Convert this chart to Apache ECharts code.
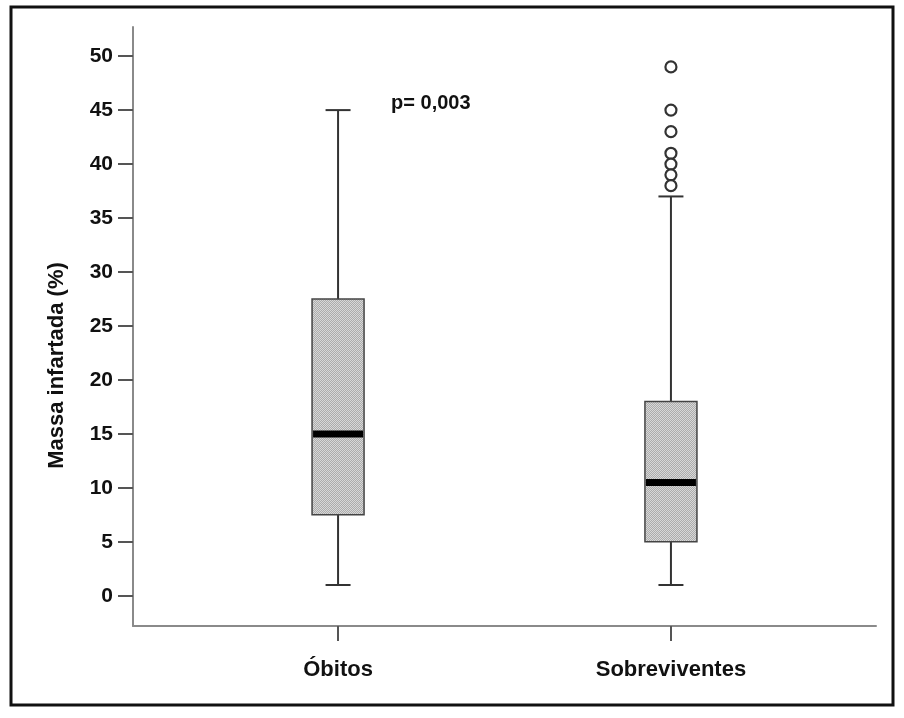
<!DOCTYPE html>
<html>
<head>
<meta charset="utf-8">
<script src="https://cdn.jsdelivr.net/npm/echarts@6/dist/echarts.min.js"></script>
<style>
html,body{margin:0;padding:0;background:#fff;}
#chart{width:904px;height:718px;}
</style>
</head>
<body>
<div id="chart"></div>
<script>
// ---- data ----
const categories = ['Óbitos', 'Sobreviventes'];
const whiskerLow = [1, 1];
const q1 = [7.5, 5];
const median = [15, 10.5];
const q3 = [27.5, 18];
const whiskerHigh = [45, 37];
const outlierGroup = [1, 1, 1, 1, 1, 1, 1];
const outlierValues = [49, 45, 43, 41, 40, 39, 38];
const yTicks = [0, 5, 10, 15, 20, 25, 30, 35, 40, 45, 50];
const pText = 'p= 0,003';
const pAnchor = [0, 45.6];

// ---- texture for boxes ----
const tile = document.createElement('canvas');
tile.width = 2; tile.height = 2;
const tctx = tile.getContext('2d');
tctx.fillStyle = '#d8d8d8'; tctx.fillRect(0, 0, 2, 2);
tctx.fillStyle = '#acacac'; tctx.fillRect(1, 0, 1, 1); tctx.fillRect(0, 1, 1, 1);

const FONT = "'Liberation Sans', Arial, Helvetica, sans-serif";
const boxData = categories.map((c, i) => [i, whiskerLow[i], q1[i], median[i], q3[i], whiskerHigh[i]]);
const outData = outlierValues.map((v, i) => [outlierGroup[i], v]);

const chart = echarts.init(document.getElementById('chart'), null, {renderer: 'canvas'});

function renderBox(params, api) {
  const x = api.value(0);
  const lo = api.coord([x, api.value(1)]);
  const b1 = api.coord([x, api.value(2)]);
  const md = api.coord([x, api.value(3)]);
  const b3 = api.coord([x, api.value(4)]);
  const hi = api.coord([x, api.value(5)]);
  const cx = lo[0];
  const bw = 52, cw = 25, mh = 7;
  const lineStyle = {stroke: '#333', lineWidth: 2};
  return {
    type: 'group',
    children: [
      {type: 'line', shape: {x1: cx, y1: hi[1], x2: cx, y2: b3[1]}, style: lineStyle},
      {type: 'line', shape: {x1: cx, y1: b1[1], x2: cx, y2: lo[1]}, style: lineStyle},
      {type: 'line', shape: {x1: cx - cw / 2, y1: hi[1], x2: cx + cw / 2, y2: hi[1]}, style: lineStyle},
      {type: 'line', shape: {x1: cx - cw / 2, y1: lo[1], x2: cx + cw / 2, y2: lo[1]}, style: lineStyle},
      {type: 'rect', shape: {x: cx - bw / 2, y: b3[1], width: bw, height: b1[1] - b3[1]},
        style: {fill: {image: tile, repeat: 'repeat'}, stroke: '#444', lineWidth: 1.5}},
      {type: 'rect', shape: {x: cx - bw / 2 + 1, y: md[1] - mh / 2, width: bw - 2, height: mh},
        style: {fill: '#000'}}
    ]
  };
}

chart.setOption({
  animation: false,
  backgroundColor: '#fff',
  grid: {left: 133, right: 28, top: 27, bottom: 92, containLabel: false},
  xAxis: {
    type: 'value',
    min: -0.616,
    max: 1.616,
    splitLine: {show: false},
    axisLine: {show: true, onZero: false, lineStyle: {color: '#8a8a8a', width: 2}},
    axisTick: {show: true, customValues: [0, 1], length: 15, lineStyle: {color: '#555', width: 2}},
    axisLabel: {
      show: true, customValues: [0, 1], margin: 33,
      formatter: v => categories[Math.round(v)] || '',
      fontFamily: FONT, fontWeight: 'bold', fontSize: 22, color: '#111'
    }
  },
  yAxis: {
    type: 'value',
    min: -2.8,
    max: 52.7,
    splitLine: {show: false},
    axisLine: {show: true, onZero: false, lineStyle: {color: '#8a8a8a', width: 2}},
    axisTick: {show: true, customValues: yTicks, length: 15, lineStyle: {color: '#555', width: 2}},
    axisLabel: {
      show: true, customValues: yTicks, margin: 20,
      fontFamily: FONT, fontWeight: 'bold', fontSize: 21, color: '#111'
    },
    name: 'Massa infartada (%)',
    nameLocation: 'middle',
    nameRotate: 90,
    nameGap: 65,
    nameTextStyle: {fontFamily: FONT, fontWeight: 'bold', fontSize: 22, color: '#111', padding: [0, 78, 0, 0]}
  },
  series: [
    {
      type: 'custom',
      renderItem: renderBox,
      encode: {x: 0, y: [1, 2, 3, 4, 5]},
      data: boxData,
      z: 2
    },
    {
      type: 'scatter',
      symbol: 'circle',
      symbolSize: 11,
      itemStyle: {color: '#fff', borderColor: '#333', borderWidth: 2.2, opacity: 1},
      data: outData,
      z: 3
    },
    {
      type: 'scatter',
      symbolSize: 0,
      data: [pAnchor],
      silent: true,
      itemStyle: {opacity: 1},
      label: {
        show: true, formatter: pText, position: [53, 0], align: 'left', verticalAlign: 'middle',
        fontFamily: FONT, fontWeight: 'bold', fontSize: 20, color: '#111'
      },
      z: 4
    }
  ],
  graphic: [
    {type: 'rect', shape: {x: 11, y: 7, width: 882, height: 698},
      style: {fill: 'none', stroke: '#111', lineWidth: 3}, silent: true, z: 10}
  ]
});
</script>
</body>
</html>
